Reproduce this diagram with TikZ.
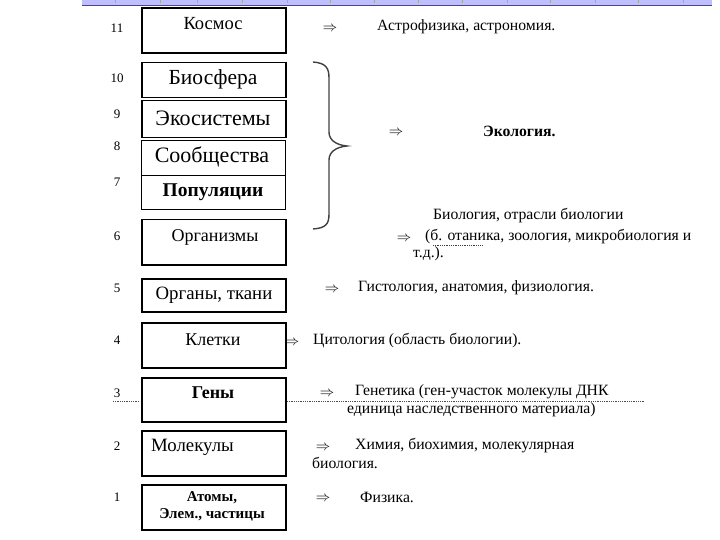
\documentclass[tikz,border=0pt]{standalone}
\usepackage{fontspec}
\setmainfont{Liberation Serif}
\usetikzlibrary{positioning}

\begin{document}
\begin{tikzpicture}[x=1pt,y=-1pt,
 box/.style={draw,line width=1.5pt,minimum width=144pt,inner sep=0pt,anchor=north west},
 num/.style={font=\fontsize{13}{15}\selectfont},
 lbl/.style={font=\fontsize{#1}{#1}\selectfont},
 impl/.style={font=\fontsize{14}{15}\selectfont,yshift=-1.5pt},
 desc/.style={anchor=west,inner sep=0pt,font=\fontsize{15.7}{18}\selectfont}]
 \useasboundingbox (0,0) rectangle (720,540);
 % ruler strip on top
 \fill[blue!25] (82,0) rectangle (712,5);
 \draw[blue!50!gray] (82,5)--(712,5);
 \foreach \t in {115,160,197,242,287,330,374,418,462,507,550,595,638,683}
  \draw[gray!70] (\t,0)--(\t,3);
 % boxes
 \node[box,line width=2pt,minimum height=45pt] (kosmos) at (141,7) {};
 \node[box,minimum height=35pt] (bio) at (141,62) {};
 \node[box,minimum height=37pt] (eko) at (141,100) {};
 \node[box,line width=1.2pt,minimum height=69pt] (soob) at (141,140) {};
 \draw[line width=.8pt] (soob.west|-0,175)--(soob.east|-0,175);
 \node[box,minimum height=45pt] (org) at (141,219) {};
 \node[box,minimum height=33pt] (organy) at (141,278) {};
 \node[box,minimum height=45pt] (klet) at (141,322) {};
 \node[box,minimum height=44pt] (geny) at (141,377) {};
 \node[box,minimum height=45pt] (mol) at (141,430) {};
 \node[box,minimum height=45pt] (atom) at (141,484) {};
 % box texts
 \node[lbl=18.5] (t11) at (213,24) {Космос};
 \node[lbl=21.5] (t10) at (213,79) {Биосфера};
 \node[lbl=22] (t9) at (213,118) {Экосистемы};
 \node[lbl=22] (t8) at (212,157) {Сообщества};
 \node[lbl=19.5] (t7) at (213,192) {\bfseries Популяции};
 \node[lbl=18] (t6) at (215,237) {Организмы};
 \node[lbl=18.8] (t5) at (214,295) {Органы, ткани};
 \node[lbl=18] (t4) at (213,340) {Клетки};
 \node[lbl=18] (t3) at (213,393) {\bfseries Гены};
 \node[lbl=18.8,anchor=west,inner sep=0pt] (t2) at (151,447) {Молекулы};
 \node[lbl=15,align=center] (t1) at (212,506)
  {\bfseries Атомы,\\[2pt]\bfseries Элем., частицы};
 % level numbers
 \foreach \n/\y in {11/28,10/78,9/114,8/146,7/182,6/236,5/288,4/340,3/393,2/446,1/497}
  \node[num] (n\n) at (117,\y) {\n};
 % brace
 \draw[line width=1.4pt,black!75] (313,62) .. controls (326,63) and (329,68) .. (329,78)
  -- (329,132) .. controls (329,140) and (336,145) .. (347,146)
  .. controls (336,147) and (329,152) .. (329,160)
  -- (329,214) .. controls (329,224) and (326,228) .. (313,229);
 % arrows
 \node[impl] (a11) at (330,27) {$\Rightarrow$};
 \node[impl] (ae) at (396,131) {$\Rightarrow$};
 \node[impl] (a6) at (404,237) {$\Rightarrow$};
 \node[impl] (a5) at (332,288) {$\Rightarrow$};
 \node[impl] (a4) at (292,341) {$\Rightarrow$};
 \node[impl] (a3) at (327,392) {$\Rightarrow$};
 \node[impl] (a2) at (323,446) {$\Rightarrow$};
 \node[impl] (a1) at (323,497) {$\Rightarrow$};
 % descriptions
 \node[desc] (d11) at (377,27) {Астрофизика, астрономия.};
 \node[desc] (de) at (483,131) {\bfseries Экология.};
 \node[desc] (d6a) at (433,216) {Биология, отрасли биологии};
 \node[desc] (d6b) at (425,237) {(б. отаника, зоология, микробиология и};
 \node[desc] (d6c) at (413,254) {т.д.).};
 \node[desc] (d5) at (358,288) {Гистология, анатомия, физиология.};
 \node[desc] (d4) at (313,341) {Цитология (область биологии).};
 \node[desc] (d3a) at (355,392) {Генетика (ген-участок молекулы ДНК};
 \node[desc] (d3b) at (347,410) {единица наследственного материала)};
 \node[desc] (d2a) at (355,446) {Химия, биохимия, молекулярная};
 \node[desc] (d2b) at (312,463) {биология.};
 \node[desc] (d1) at (360,497) {Физика.};
 % spell-check marks
 \draw[green!50!black,densely dotted,line width=.8pt] (113,401)--(140,401) (287,401)--(645,401);
 \draw[red!80!black,densely dotted,line width=.8pt] (433,245)--(482,245);
\end{tikzpicture}
\end{document}
